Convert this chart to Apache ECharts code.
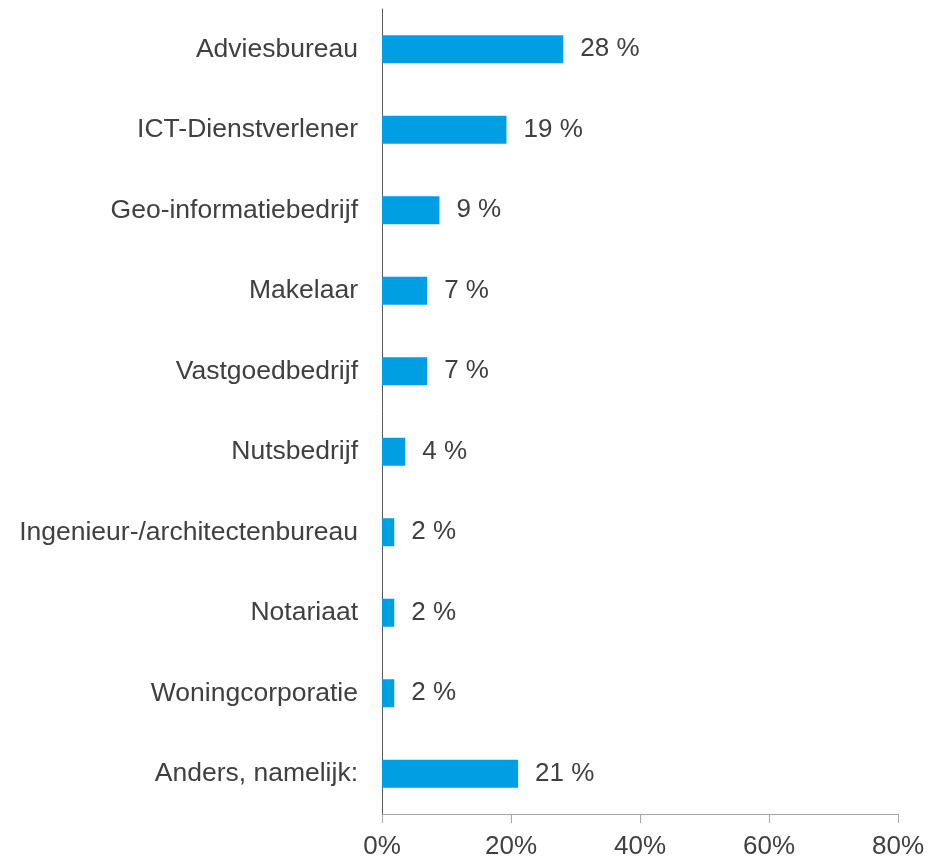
<!DOCTYPE html>
<html>
<head>
<meta charset="utf-8">
<script src="https://cdn.jsdelivr.net/npm/echarts@6/dist/echarts.min.js"></script>
<style>
html, body { margin: 0; padding: 0; background: #fff; }
#chart { width: 931px; height: 857px; }
</style>
</head>
<body>
<div id="chart"></div>
<script>
var chart = echarts.init(document.getElementById('chart'));

// categories from top to bottom
var categories = ['Adviesbureau', 'ICT-Dienstverlener', 'Geo-informatiebedrijf', 'Makelaar',
    'Vastgoedbedrijf', 'Nutsbedrijf', 'Ingenieur-/architectenbureau', 'Notariaat',
    'Woningcorporatie', 'Anders, namelijk:'];
// bar lengths (labels show them rounded)
var values = [28.1, 19.3, 8.9, 7.0, 7.0, 3.6, 1.9, 1.9, 1.9, 21.1];
var xTicks = [0, 20, 40, 60, 80];

chart.setOption({
    animation: false,
    textStyle: { fontFamily: 'Liberation Sans, Arial, sans-serif' },
    grid: { left: 382, right: 33, top: 9, bottom: 43, outerBoundsMode: 'none' },
    xAxis: {
        type: 'value',
        min: xTicks[0],
        max: xTicks[xTicks.length - 1],
        interval: 20,
        splitLine: { show: false },
        axisLine: { show: true, lineStyle: { color: '#A6A6A6', width: 1 } },
        axisTick: { show: true, length: 9, lineStyle: { color: '#A6A6A6' } },
        axisLabel: {
            formatter: '{value}%',
            color: '#404040',
            fontSize: 26,
            margin: 20
        }
    },
    yAxis: {
        type: 'category',
        data: categories,
        inverse: true,
        axisLine: { show: true, lineStyle: { color: '#595959', width: 1 } },
        axisTick: { show: false },
        axisLabel: { color: '#404040', fontSize: 26.5, margin: 24 }
    },
    series: [{
        type: 'bar',
        data: values,
        barWidth: 28,
        itemStyle: { color: '#009FE3' },
        label: {
            show: true,
            position: 'right',
            distance: 17,
            formatter: function (p) { return Math.round(p.value) + ' %'; },
            color: '#404040',
            fontSize: 26
        }
    }]
});
</script>
</body>
</html>
